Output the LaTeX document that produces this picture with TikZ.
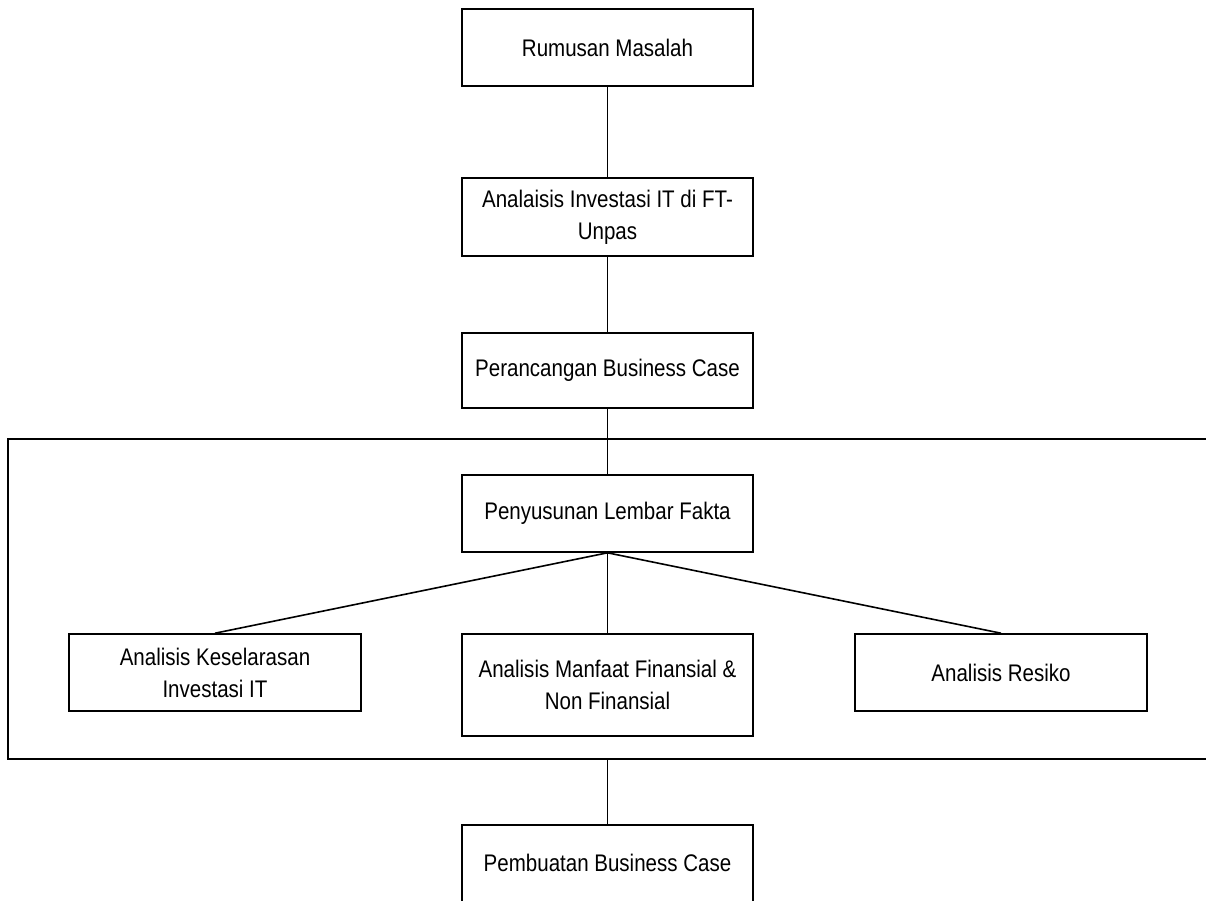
\documentclass[tikz,border=0pt]{standalone}
\usepackage{fontspec}
\setmainfont[FakeStretch=0.855]{Liberation Sans}
\begin{document}
\begin{tikzpicture}[x=1pt,y=-1pt,
  box/.style={draw=black,line width=1.6pt,fill=white,rectangle,inner sep=0pt,align=center,
    font=\fontsize{24}{32}\selectfont},
  conn/.style={draw=black,line width=1.6pt}]
\useasboundingbox (0,0) rectangle (1206,900);
\clip (0,0) rectangle (1206,900);
\node[draw=black,line width=1.6pt,rectangle,inner sep=0pt,minimum width=1232pt,minimum height=320pt] (group) at (624,599) {};
\node[box,minimum width=291pt,minimum height=77pt] (rm) at (607.5,47.5) {Rumusan Masalah};
\node[box,minimum width=291pt,minimum height=78pt] (ai) at (607.5,217) {Analaisis Investasi IT di FT-\\Unpas};
\node[box,minimum width=291pt,minimum height=75pt] (pbc) at (607.5,370.5) {Perancangan Business Case};
\node[box,minimum width=291pt,minimum height=77pt] (plf) at (607.5,513.5) {Penyusunan Lembar Fakta};
\node[box,minimum width=292pt,minimum height=77pt] (ak) at (215,672.5) {Analisis Keselarasan\\Investasi IT};
\node[box,minimum width=291pt,minimum height=102pt] (am) at (607.5,685) {Analisis Manfaat Finansial \&\\Non Finansial};
\node[box,minimum width=292pt,minimum height=77pt] (ar) at (1001,672.5) {Analisis Resiko};
\node[box,minimum width=291pt,minimum height=120pt] (pmb) at (607.5,885) {};
\node[font=\fontsize{24}{32}\selectfont] (pmbt) at (607.5,863) {Pembuatan Business Case};
\draw[conn] (rm.south) -- (ai.north);
\draw[conn] (ai.south) -- (pbc.north);
\draw[conn] (pbc.south) -- (plf.north);
\draw[conn] (plf.south) -- (ak.north);
\draw[conn] (plf.south) -- (am.north);
\draw[conn] (plf.south) -- (ar.north);
\draw[conn] (group.south -| pmb.north) -- (pmb.north);
\end{tikzpicture}
\end{document}
